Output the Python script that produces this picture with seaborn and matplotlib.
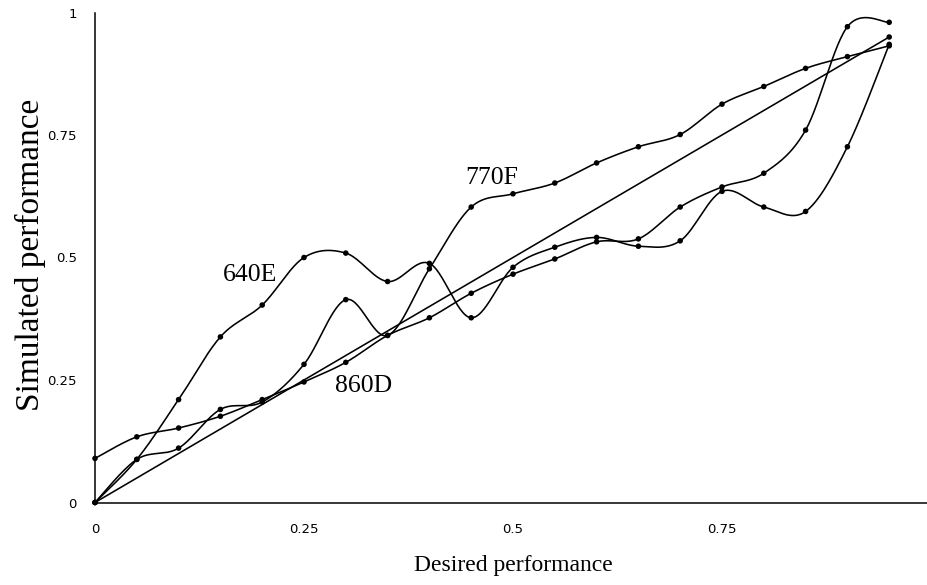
import numpy as np
import pandas as pd
import matplotlib
matplotlib.use("Agg")
import matplotlib.pyplot as plt
import seaborn as sns

# Desired performance levels (x) shared by the three configurations
desired = [0.00, 0.05, 0.10, 0.15, 0.20, 0.25, 0.30, 0.35, 0.40, 0.45,
           0.50, 0.55, 0.60, 0.65, 0.70, 0.75, 0.80, 0.85, 0.90, 0.95]

# Simulated performance per configuration
sim_640E = [0.000, 0.088, 0.210, 0.338, 0.403, 0.500, 0.509, 0.451, 0.488, 0.377,
            0.480, 0.521, 0.541, 0.523, 0.534, 0.635, 0.603, 0.594, 0.726, 0.935]
sim_770F = [0.000, 0.088, 0.111, 0.190, 0.205, 0.282, 0.414, 0.341, 0.477, 0.603,
            0.630, 0.652, 0.693, 0.726, 0.751, 0.813, 0.849, 0.886, 0.910, 0.932]
sim_860D = [0.090, 0.134, 0.152, 0.176, 0.210, 0.246, 0.286, 0.341, 0.377, 0.427,
            0.466, 0.497, 0.532, 0.538, 0.603, 0.644, 0.672, 0.760, 0.971, 0.980]

# Ideal response: simulated equals desired
ideal_x = [0.00, 0.95]
ideal_y = [0.00, 0.95]

series = {"640E": sim_640E, "770F": sim_770F, "860D": sim_860D}
tick_values = [0, 0.25, 0.5, 0.75, 1]
tick_labels = ["0", "0.25", "0.5", "0.75", "1"]


def smooth_curve(x, y, steps=30):
    """Piecewise cubic Bezier through every point (spreadsheet-style smoothed line)."""
    x = np.asarray(x, float)
    y = np.asarray(y, float)
    px = np.concatenate([[x[0]], x, [x[-1]]])
    py = np.concatenate([[y[0]], y, [y[-1]]])
    xs, ys = [], []
    t = np.linspace(0, 1, steps, endpoint=False)
    for i in range(len(x) - 1):
        p0 = np.array([px[i + 1], py[i + 1]])
        p3 = np.array([px[i + 2], py[i + 2]])
        c1 = p0 + (np.array([px[i + 2], py[i + 2]]) - np.array([px[i], py[i]])) / 6.0
        c2 = p3 - (np.array([px[i + 3], py[i + 3]]) - np.array([px[i + 1], py[i + 1]])) / 6.0
        b = ((1 - t) ** 3)[:, None] * p0 + (3 * (1 - t) ** 2 * t)[:, None] * c1 \
            + (3 * (1 - t) * t ** 2)[:, None] * c2 + (t ** 3)[:, None] * p3
        xs.extend(b[:, 0])
        ys.extend(b[:, 1])
    xs.append(x[-1])
    ys.append(y[-1])
    return np.array(xs), np.array(ys)


sns.set_theme(style="white")
plt.rcParams["font.family"] = ["DejaVu Sans"]

fig = plt.figure(figsize=(9.28, 5.85), dpi=100)
ax = fig.add_axes([95 / 928, (585 - 502.5) / 585, 836 / 928, 490 / 585])

points = pd.DataFrame({
    "desired": desired * 3,
    "simulated": sim_640E + sim_770F + sim_860D,
    "config": ["640E"] * 20 + ["770F"] * 20 + ["860D"] * 20,
})

curves = []
for name, vals in series.items():
    sx, sy = smooth_curve(desired, vals)
    curves.append(pd.DataFrame({"desired": sx, "simulated": sy, "config": name}))
curves = pd.concat(curves, ignore_index=True)

line_kw = dict(color="black", linewidth=1.15, solid_capstyle="round", clip_on=False)
for name, grp in curves.groupby("config"):
    sns.lineplot(data=grp, x="desired", y="simulated", sort=False,
                 estimator=None, ax=ax, legend=False, **line_kw)

ideal = pd.DataFrame({"desired": ideal_x, "simulated": ideal_y})
sns.lineplot(data=ideal, x="desired", y="simulated", sort=False, estimator=None,
             ax=ax, legend=False, **line_kw)

marker_data = pd.concat([points, ideal.assign(config="ideal")], ignore_index=True)
sns.scatterplot(data=marker_data, x="desired", y="simulated", color="black",
                s=16, edgecolor="none", ax=ax, legend=False, clip_on=False, zorder=5)

# Curve labels
label_font = dict(family=["Liberation Serif", "DejaVu Serif"], fontsize=18.5, color="black")
ax.text(0.185, 0.464, "640E", ha="center", va="center", **label_font)
ax.text(0.474, 0.663, "770F", ha="center", va="center", **label_font)
ax.text(0.321, 0.238, "860D", ha="center", va="center", **label_font)

ax.set_xlim(0, 1)
ax.set_ylim(0, 1)
ax.set_xticks(tick_values)
ax.set_xticklabels(tick_labels)
ax.set_yticks(tick_values)
ax.set_yticklabels(tick_labels)

for side in ("top", "right"):
    ax.spines[side].set_visible(False)
for side in ("left", "bottom"):
    ax.spines[side].set_color("black")
    ax.spines[side].set_linewidth(1.1)

ax.tick_params(axis="both", which="major", direction="out", length=4.5, width=1.1,
               color="black", labelsize=9.5, labelcolor="black")
ax.tick_params(axis="x", pad=10)
ax.tick_params(axis="y", pad=8.5)
ax.grid(False)

serif = ["Liberation Serif", "DejaVu Serif"]
ax.set_xlabel("Desired performance", family=serif, fontsize=17, color="black", va="center")
ax.xaxis.set_label_coords(0.5, (502.5 - 565) / 490)
ax.set_ylabel("Simulated performance", family=serif, fontsize=24, color="black", va="center")
ax.yaxis.set_label_coords((30 - 95) / 836, (502.5 - 255) / 490)

fig.savefig("out.png", dpi=100, facecolor="white")
